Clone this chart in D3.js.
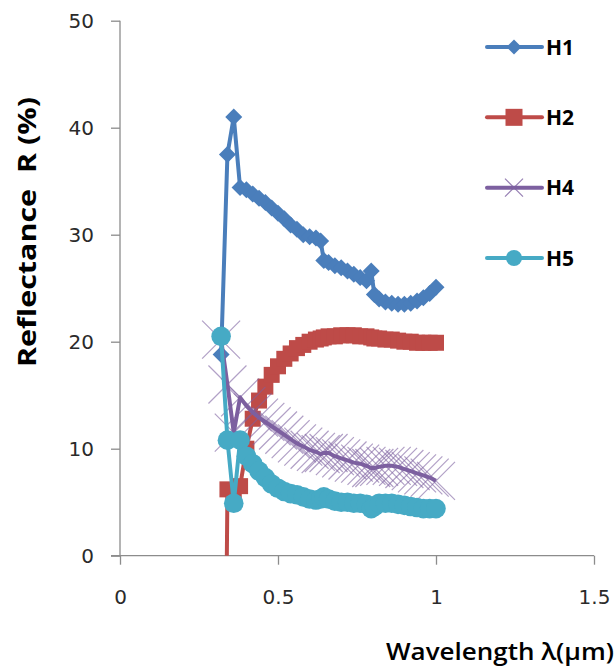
<!DOCTYPE html>
<html>
<head>
<meta charset="utf-8">
<script src="https://cdn.jsdelivr.net/npm/d3@7"></script>
<style>
  body { margin: 0; background: #fff; }
  svg { display: block; }
</style>
</head>
<body>
<svg width="616" height="666"></svg>
<script>
// wavelength (um) and reflectance (%)
var wavelength = [0.32, 0.34, 0.36, 0.38, 0.40, 0.42, 0.44, 0.46, 0.48, 0.50,
  0.52, 0.54, 0.56, 0.58, 0.60, 0.62, 0.635, 0.645, 0.66, 0.68, 0.70, 0.72,
  0.74, 0.76, 0.78, 0.795, 0.805, 0.82, 0.84, 0.86, 0.88, 0.90, 0.92, 0.94,
  0.96, 0.98, 1.00];

var h1 = [18.8, 37.5, 41.0, 34.4, 34.2, 33.8, 33.4, 33.0, 32.5, 32.0,
  31.5, 30.9, 30.5, 30.0, 29.8, 29.7, 29.4, 27.6, 27.4, 27.1, 26.9, 26.6,
  26.3, 26.0, 25.7, 26.6, 24.4, 24.0, 23.7, 23.6, 23.5, 23.5, 23.6, 23.8,
  24.1, 24.5, 25.1];

var h2 = [-60.0, 6.2, 6.0, 6.5, 10.0, 12.8, 14.5, 15.8, 16.9, 17.7,
  18.4, 18.9, 19.4, 19.7, 20.0, 20.2, 20.3, 20.4, 20.5, 20.5, 20.6, 20.6,
  20.6, 20.5, 20.5, 20.4, 20.3, 20.3, 20.2, 20.2, 20.1, 20.0, 20.0, 19.9,
  19.9, 19.9, 19.9];

var h4 = [20.2, 16.0, 11.5, 14.8, 14.0, 13.4, 12.9, 12.5, 12.1, 11.7,
  11.3, 10.9, 10.5, 10.2, 9.9, 9.7, 9.5, 9.6, 9.6, 9.3, 9.1, 8.9,
  8.7, 8.6, 8.4, 8.2, 8.2, 8.3, 8.4, 8.4, 8.3, 8.1, 7.9, 7.7,
  7.5, 7.3, 7.0];

var h5 = [20.5, 10.8, 4.9, 10.8, 9.3, 8.6, 7.9, 7.3, 6.7, 6.3,
  6.0, 5.8, 5.7, 5.5, 5.3, 5.2, 5.3, 5.5, 5.3, 5.1, 5.0, 5.0,
  4.9, 4.9, 4.8, 4.4, 4.6, 4.9, 4.9, 4.9, 4.8, 4.7, 4.6, 4.5,
  4.4, 4.4, 4.4];

var seriesNames = ["H1", "H2", "H4", "H5"];
var seriesValues = [h1, h2, h4, h5];
var seriesColors = ["#4a7ebb", "#be4b48", "#7d60a0", "#46aac5"];
var seriesMarkers = ["diamond", "square", "cross", "circle"];

var xTicks = [0, 0.5, 1, 1.5];
var yTicks = [0, 10, 20, 30, 40, 50];

var svg = d3.select("svg");
var plotLeft = 120, plotRight = 594, plotTop = 20.7, plotBottom = 555.7;

var xScale = d3.scaleLinear().domain([0, 1.5]).range([plotLeft, plotRight]);
var yScale = d3.scaleLinear().domain([0, 50]).range([plotBottom, plotTop]);

var tickFont = "'DejaVu Sans', sans-serif";
var titleFont = "'Open Sans', sans-serif";

// axes
var xAxis = d3.axisBottom(xScale).tickValues(xTicks).tickSize(9).tickPadding(25)
  .tickFormat(d3.format("~g"));
var yAxis = d3.axisLeft(yScale).tickValues(yTicks).tickSize(9).tickPadding(17);

var gx = svg.append("g").attr("transform", "translate(0," + plotBottom + ")").call(xAxis);
var gy = svg.append("g").attr("transform", "translate(" + plotLeft + ",0)").call(yAxis);

[gx, gy].forEach(function(g) {
  g.select(".domain").remove();
  g.selectAll("line").attr("stroke", "#8c8c8c").attr("stroke-width", 1.3);
  g.selectAll("text").attr("fill", "#2a2a2a").style("font-family", tickFont).style("font-size", "20px");
});

svg.append("line")
  .attr("x1", plotLeft - 9).attr("x2", plotRight).attr("y1", plotBottom).attr("y2", plotBottom)
  .attr("stroke", "#8c8c8c").attr("stroke-width", 1.3);
svg.append("line")
  .attr("x1", plotLeft).attr("x2", plotLeft).attr("y1", plotTop).attr("y2", plotBottom)
  .attr("stroke", "#8c8c8c").attr("stroke-width", 1.3);

// titles
svg.append("text")
  .attr("transform", "translate(36,232) rotate(-90)")
  .attr("text-anchor", "middle")
  .attr("textLength", 270).attr("lengthAdjust", "spacingAndGlyphs")
  .style("font-family", titleFont).style("font-weight", 700).style("font-size", "25px")
  .attr("fill", "#000")
  .text("Reflectance\u00a0 R (%)");

svg.append("text")
  .attr("x", 386).attr("y", 660)
  .attr("textLength", 228).attr("lengthAdjust", "spacingAndGlyphs")
  .style("font-family", titleFont).style("font-weight", 600).style("font-size", "24px")
  .attr("fill", "#000")
  .text("Wavelength \u03bb(\u00b5m)");

// markers
function marker(sel, type, color, s) {
  if (type == "diamond") {
    sel.append("path").attr("d", "M0," + (-s) + "L" + s + ",0L0," + s + "L" + (-s) + ",0Z")
      .attr("fill", color);
  } else if (type == "square") {
    sel.append("rect").attr("x", -s).attr("y", -s).attr("width", 2 * s).attr("height", 2 * s)
      .attr("fill", color);
  } else if (type == "cross") {
    sel.append("path").attr("d", "M" + (-s) + "," + (-s) + "L" + s + "," + s + "M" + (-s) + "," + s + "L" + s + "," + (-s))
      .attr("stroke", color).attr("stroke-width", 1.2).attr("stroke-opacity", 0.6).attr("fill", "none");
  } else {
    sel.append("circle").attr("r", s).attr("fill", color);
  }
}
var plotSize = { diamond: 8.5, square: 8, cross: 19, circle: 9.8 };
var legendSize = { diamond: 7.5, square: 8.5, cross: 9, circle: 8 };

svg.append("clipPath").attr("id", "plotclip")
  .append("rect").attr("x", plotLeft).attr("y", 0).attr("width", 616 - plotLeft).attr("height", plotBottom);

var line = d3.line().x(function(d) { return xScale(d[0]); }).y(function(d) { return yScale(d[1]); });

var plot = svg.append("g").attr("clip-path", "url(#plotclip)");

seriesNames.forEach(function(name, i) {
  var pts = wavelength.map(function(w, j) { return [w, seriesValues[i][j]]; });
  var g = plot.append("g");
  g.append("path").datum(pts).attr("d", line)
    .attr("fill", "none").attr("stroke", seriesColors[i]).attr("stroke-width", 4)
    .attr("stroke-linejoin", "round");
  g.selectAll(".m").data(pts).enter().append("g")
    .attr("transform", function(d) { return "translate(" + xScale(d[0]) + "," + yScale(d[1]) + ")"; })
    .each(function() { marker(d3.select(this), seriesMarkers[i], seriesColors[i], plotSize[seriesMarkers[i]]); });
});

// legend
var legendY = d3.scalePoint().domain(seriesNames).range([47, 258]);
seriesNames.forEach(function(name, i) {
  var g = svg.append("g").attr("transform", "translate(0," + legendY(name) + ")");
  g.append("line").attr("x1", 487).attr("x2", 542).attr("y1", 0).attr("y2", 0)
    .attr("stroke", seriesColors[i]).attr("stroke-width", 4).attr("stroke-linecap", "round");
  var m = g.append("g").attr("transform", "translate(514,0)");
  marker(m, seriesMarkers[i], seriesColors[i], legendSize[seriesMarkers[i]]);
  if (seriesMarkers[i] == "cross") m.select("path").attr("stroke-opacity", 0.8);
  g.append("text").attr("x", 546).attr("y", 7.5)
    .style("font-family", titleFont).style("font-weight", 700).style("font-size", "21px")
    .attr("fill", "#000").text(name);
});
</script>
</body>
</html>
